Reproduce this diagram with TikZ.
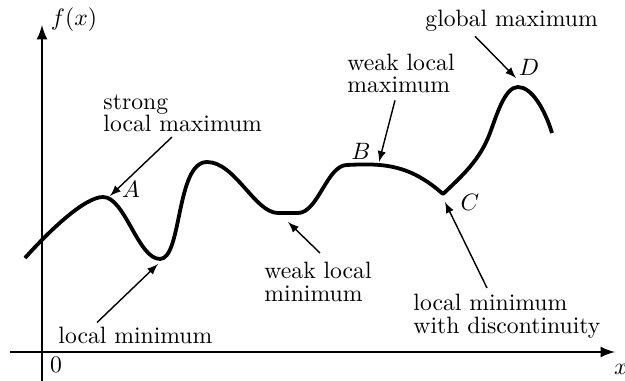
\documentclass[tikz,border=0pt]{standalone}
\usepackage{amsmath, amssymb}
\usepackage{tikz}
\usetikzlibrary{arrows, calc, positioning}

\begin{document}
\begin{tikzpicture}[x=0.01484cm, y=-0.01484cm,
    curve/.style={line width=1.6pt, line join=round},
    axis/.style={line width=1.1pt, -latex},
    pointer/.style={line width=0.6pt, -latex},
    lbl/.style={inner sep=0pt, align=left, anchor=north west, font=\fontsize{10pt}{9.4pt}\selectfont},
    pt/.style={inner sep=0pt}]
        \useasboundingbox (0,0) rectangle (625,381);

        % Trục tọa độ
        \draw[axis] (10,352) -- (615,352);
        \draw[axis] (42,381) -- (42,25);
        \node[pt] (xlab) at (621,369) {$x$};
        \node[pt] (ylab) at (74,20) {$f(x)$};
        \node[pt] (zero) at (56,365) {$0$};

        % Đồ thị hàm số
        \draw[curve] (25,258) .. controls (50,230) and (85,197) .. (103,197)
          .. controls (125,197) and (138,259) .. (160,259)
          .. controls (182,259) and (176,162) .. (207,162)
          .. controls (235,162) and (255,213) .. (278,213)
          -- (298,213)
          .. controls (318,213) and (327,165) .. (347,165)
          .. controls (385,163) and (410,165) .. (443,194)
          .. controls (462,176) and (480,160) .. (490,133)
          .. controls (497,114) and (505,87) .. (518,87)
          .. controls (532,87) and (545,110) .. (552,133);

        % Các điểm
        \node[pt] (A) at (131,189) {$A$};
        \node[pt] (B) at (361,151) {$B$};
        \node[pt] (C) at (470,202) {$C$};
        \node[pt] (D) at (529,67) {$D$};
        \coordinate (tipA) at (110,196);
        \coordinate (tipLmin) at (158,264);
        \coordinate (tipWmin) at (288,222);
        \coordinate (tipB) at (379,162);
        \coordinate (tipC) at (445,202);
        \coordinate (tipD) at (516,78);

        % Chú thích
        \node[lbl] (slm) at (103,94) {strong\\local maximum};
        \node[lbl] (lmin) at (58,326.5) {local minimum};
        \node[lbl] (wmin) at (264,262) {weak local\\minimum};
        \node[lbl] (wmax) at (347,53.5) {weak local\\maximum};
        \node[lbl] (dmin) at (413,294) {local minimum\\with discontinuity};
        \node[lbl] (gmax) at (425,10) {global maximum};

        % Mũi tên
        \draw[pointer] ($(slm.south west)+(69,5)$) -- (tipA);
        \draw[pointer] ($(lmin.north west)+(39,-4)$) -- (tipLmin);
        \draw[pointer] ($(wmin.north west)+(56,-9)$) -- (tipWmin);
        \draw[pointer] ($(wmax.south west)+(48,7)$) -- (tipB);
        \draw[pointer] ($(dmin.north west)+(74,-6)$) -- (tipC);
        \draw[pointer] ($(gmax.south west)+(50,4)$) -- (tipD);
      \end{tikzpicture}
\end{document}
